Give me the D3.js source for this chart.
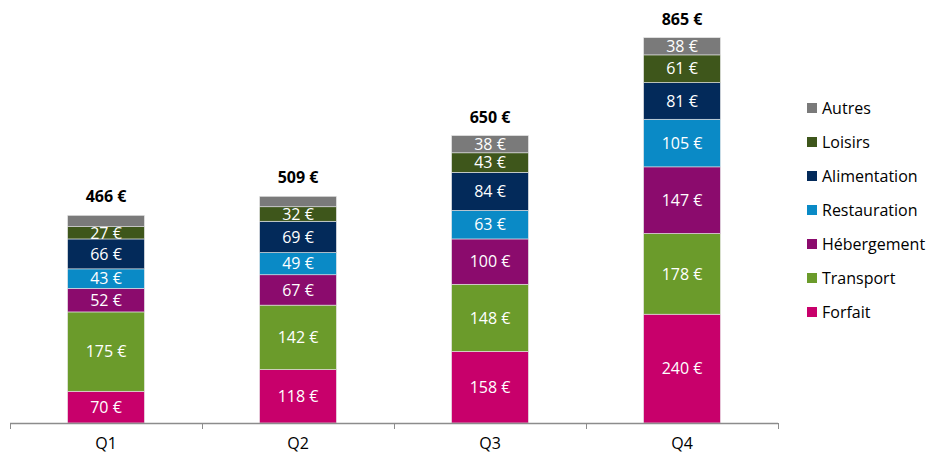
<!DOCTYPE html>
<html>
<head>
<meta charset="utf-8">
<script src="https://cdn.jsdelivr.net/npm/d3@7"></script>
<style>
  body { margin: 0; background: #fff; }
  svg text { font-family: "Open Sans", "Liberation Sans", sans-serif; }
</style>
</head>
<body>
<div id="chart"></div>
<script>
// quarters on the x axis
var quarters = ["Q1", "Q2", "Q3", "Q4"];
// spending categories, bottom to top
var categories = ["Forfait", "Transport", "Hébergement", "Restauration", "Alimentation", "Loisirs", "Autres"];
var colors = ["#c8006b", "#6b9b2b", "#8b0b6d", "#0a8ac6", "#032a5a", "#3e561b", "#7a7a7a"];

// values per category, one per quarter
var forfait      = [70, 118, 158, 240];
var transport    = [175, 142, 148, 178];
var hebergement  = [52, 67, 100, 147];
var restauration = [43, 49, 63, 105];
var alimentation = [66, 69, 84, 81];
var loisirs      = [27, 32, 43, 61];
var autres       = [25, 23, 38, 38];
// total labels printed above each bar
var totals = [466, 509, 650, 865];
// segments without a label in the original
var hiddenLabels = ["Autres-Q1", "Autres-Q2"];

var series = [forfait, transport, hebergement, restauration, alimentation, loisirs, autres];

var width = 929, height = 454;
var svg = d3.select("#chart").append("svg")
  .attr("width", width)
  .attr("height", height);

// x scale: bands between the axis ticks
var x = d3.scaleBand()
  .domain(quarters)
  .range([10, 778])
  .paddingInner(0.6)
  .paddingOuter(0.3);

var y = d3.scaleLinear()
  .domain([0, 900])
  .range([423, 423 - 408]);

var color = d3.scaleOrdinal().domain(categories).range(colors);

// build rows for the stack
var rows = quarters.map(function(q, i) {
  var r = {quarter: q};
  categories.forEach(function(c, j) { r[c] = series[j][i]; });
  return r;
});
var stacked = d3.stack().keys(categories)(rows);

// draw the segments
var layer = svg.selectAll(".layer")
  .data(stacked)
  .enter()
  .append("g")
    .attr("class", "layer")
    .attr("fill", function(d) { return color(d.key); });

layer.selectAll("rect")
  .data(function(d) { return d; })
  .enter()
  .append("rect")
    .attr("x", function(d) { return x(d.data.quarter); })
    .attr("y", function(d) { return y(d[1]); })
    .attr("width", x.bandwidth())
    .attr("height", function(d) { return y(d[0]) - y(d[1]); })
    .style("stroke", "#e6e6e6")
    .style("stroke-width", 0.6);

// segment labels
layer.selectAll("text")
  .data(function(d) {
    return d.filter(function(s) { return hiddenLabels.indexOf(d.key + "-" + s.data.quarter) < 0; })
            .map(function(s) { return {key: d.key, s: s}; });
  })
  .enter()
  .append("text")
    .attr("x", function(d) { return x(d.s.data.quarter) + x.bandwidth() / 2; })
    .attr("y", function(d) { return (y(d.s[0]) + y(d.s[1])) / 2; })
    .attr("dy", "0.36em")
    .style("text-anchor", "middle")
    .style("font-size", "16px")
    .style("fill", "#ffffff")
    .text(function(d) { return (d.s[1] - d.s[0]) + " €"; });

// totals above the bars
var topLayer = stacked[stacked.length - 1];
svg.selectAll(".total")
  .data(quarters)
  .enter()
  .append("text")
    .attr("class", "total")
    .attr("x", function(d) { return x(d) + x.bandwidth() / 2; })
    .attr("y", function(d, i) { return y(topLayer[i][1]) - 13; })
    .style("text-anchor", "middle")
    .style("font-size", "16px")
    .style("font-weight", "bold")
    .style("fill", "#000")
    .text(function(d, i) { return totals[i] + " €"; });

// x axis with ticks between categories
var axis = svg.append("g");
axis.append("line")
  .attr("x1", 10).attr("x2", 778)
  .attr("y1", 423.5).attr("y2", 423.5)
  .style("stroke", "#8c8c8c")
  .style("stroke-width", 1.5);
var tickPos = quarters.map(function(q) { return x(q) - x.step() * 0.3; });
tickPos.push(x(quarters[3]) + x.bandwidth() + x.step() * 0.3);
axis.selectAll(".tick")
  .data(tickPos)
  .enter()
  .append("line")
    .attr("x1", function(d) { return Math.round(d) + 0.5; })
    .attr("x2", function(d) { return Math.round(d) + 0.5; })
    .attr("y1", 423).attr("y2", 429)
    .style("stroke", "#8c8c8c")
    .style("stroke-width", 1);
axis.selectAll(".qlabel")
  .data(quarters)
  .enter()
  .append("text")
    .attr("x", function(d) { return x(d) + x.bandwidth() / 2; })
    .attr("y", 449)
    .style("text-anchor", "middle")
    .style("font-size", "16px")
    .style("fill", "#000")
    .text(function(d) { return d; });

// legend, top category first
var legend = svg.selectAll(".legend")
  .data(categories.slice().reverse())
  .enter()
  .append("g")
    .attr("class", "legend")
    .attr("transform", function(d, i) { return "translate(807," + (108 + i * 34) + ")"; });
legend.append("rect")
  .attr("x", 0).attr("y", -5)
  .attr("width", 10).attr("height", 10)
  .style("fill", function(d) { return color(d); });
legend.append("text")
  .attr("x", 15)
  .attr("dy", "0.36em")
  .style("font-size", "16px")
  .style("fill", "#000")
  .text(function(d) { return d; });
</script>
</body>
</html>
